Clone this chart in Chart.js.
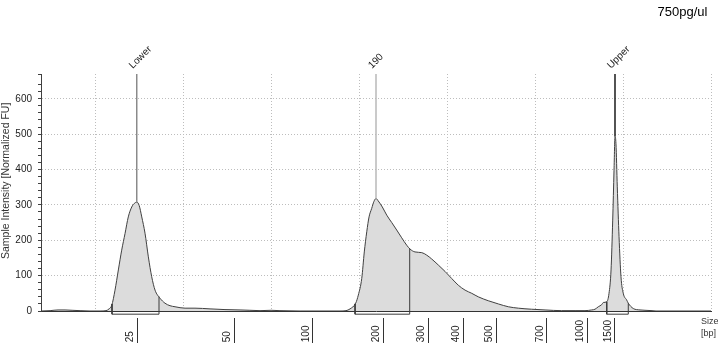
<!DOCTYPE html>
<html>
<head>
<meta charset="utf-8">
<script src="https://cdn.jsdelivr.net/npm/chart.js@4.4.1/dist/chart.umd.min.js"></script>
<style>
    body { margin: 0; background: #fff; }
    #wrap { width: 718px; height: 350px; }
</style>
</head>
<body>
<div id="wrap"><canvas id="canvas"></canvas></div>
<script>
// electropherogram trace: run position (scan units) vs intensity [FU]
const traceX = [38.6, 48.9, 58.0, 65.9, 73.9, 83.0, 94.3, 105.7, 112.5, 115.9, 119.0, 122.7, 126.5, 130.3,
    134.1, 137.8, 141.7, 144.6, 147.4, 150.2, 153.1, 156.8, 160.6, 164.4, 168.2, 173.9, 179.5, 185.2,
    190.9, 202.3, 213.6, 230.7, 247.7, 264.8, 276.0, 287.5, 300.0, 310.2, 333.0, 378.4, 385.2, 389.8,
    396.2, 399.2, 403.1, 406.0, 408.8, 411.4, 414.4, 417.0, 419.3, 421.9, 426.5, 431.5, 437.2, 442.8,
    448.5, 454.2, 458.0, 463.6, 471.3, 476.9, 482.6, 490.1, 497.7, 505.3, 512.8, 520.5, 528.1, 535.6,
    546.9, 558.3, 569.7, 581.0, 596.2, 611.4, 630.3, 645.5, 656.8, 664.4, 668.2, 671.9, 675.8, 677.6,
    681.5, 684.1, 686.4, 688.3, 689.8, 690.9, 692.0, 693.5, 695.5, 697.7, 700.3, 704.2, 706.0, 711.7,
    719.3, 725.0, 733.0, 737.5, 800.0];
const traceY = [0, 1, 3, 3, 2, 1, 0, 0, 1, 6, 16, 59, 116, 172,
    219, 266, 294, 304, 308, 298, 266, 220, 153, 97, 59, 36, 22, 15,
    12, 8, 8, 6, 4, 3, 2, 1, 2, 1, 0, 0, 1, 6,
    22, 45, 92, 167, 224, 266, 290, 310, 318, 311, 294, 271, 250, 229,
    207, 186, 175, 167, 165, 158, 147, 130, 112, 92, 73, 59, 50, 40,
    29, 20, 12, 8, 5, 3, 1, 1, 1, 3, 5, 12, 18, 24,
    26, 50, 116, 257, 398, 493, 473, 351, 210, 97, 50, 31, 22, 7,
    3, 2, 1, 0, 0];

// size ladder shown under the axis
const sizeLabels = ["25", "50", "100", "200", "300", "400", "500", "700", "1000", "1500"];
const sizePositions = [147.7, 258.0, 347.7, 428.1, 478.4, 518.2, 555.7, 613.6, 659.1, 690.9];

// called peaks
const peakNames = ["Lower", "190", "Upper"];
const peakPositions = [147.4, 419.3, 690.9];
const peakHeights = [308, 318, 493];

// integration regions
const regionStarts = [119.3, 395.5, 681.5];
const regionEnds = [172.7, 457.6, 706.0];

const X_MIN = 38.6, X_MAX = 800, Y_MAX = 670;
const BOX_DROP = 9; // integration boxes hang a little below the baseline (FU)
const peakLineColors = ["#8a8a8a", "#b8b8b8", "#1a1a1a"];
const FONT = '"Liberation Sans", Arial, sans-serif';

Chart.defaults.font.family = FONT;

function valueAt(x) {
    for (let i = 1; i < traceX.length; i++) {
        if (x <= traceX[i]) {
            const t = (x - traceX[i - 1]) / (traceX[i] - traceX[i - 1]);
            return traceY[i - 1] + t * (traceY[i] - traceY[i - 1]);
        }
    }
    return 0;
}

const datasets = [];

// integration boxes
regionStarts.forEach((s, i) => {
    const e = regionEnds[i];
    datasets.push({
        data: [{x: s, y: valueAt(s)}, {x: s, y: -BOX_DROP}, {x: e, y: -BOX_DROP}, {x: e, y: valueAt(e)}],
        borderColor: "#3a3a3a",
        borderWidth: 1,
        pointRadius: 0,
        fill: false,
        clip: false,
        order: 1
    });
});

// marker lines from peak top to the top of the plot
peakPositions.forEach((p, i) => {
    datasets.push({
        data: [{x: p, y: peakHeights[i]}, {x: p, y: Y_MAX}],
        borderColor: peakLineColors[i],
        borderWidth: 1.5,
        pointRadius: 0,
        fill: false,
        order: 1
    });
});

datasets.push({
    data: traceX.map((x, i) => ({x: x, y: traceY[i]})),
    borderColor: "#404040",
    backgroundColor: "#dcdcdc",
    borderWidth: 1,
    pointRadius: 0,
    fill: "origin",
    cubicInterpolationMode: "monotone",
    order: 3
});

const peakLabelPlugin = {
    id: "peakLabels",
    afterDraw(chart) {
        const {ctx, chartArea, scales} = chart;
        ctx.save();
        ctx.fillStyle = "#222";
        ctx.font = "10px " + FONT;
        ctx.textAlign = "left";
        ctx.textBaseline = "alphabetic";
        peakNames.forEach((name, i) => {
            const px = scales.x.getPixelForValue(peakPositions[i]);
            ctx.save();
            ctx.translate(px - 4, chartArea.top - 5);
            ctx.rotate(-Math.PI / 4);
            ctx.fillText(name, 0, 0);
            ctx.restore();
        });
        // unit of the size ladder
        ctx.font = "9px " + FONT;
        ctx.fillStyle = "#333";
        ctx.fillText("Size", chartArea.right - 10, chartArea.bottom + 12.5);
        ctx.fillText("[bp]", chartArea.right - 10, chartArea.bottom + 24.5);
        ctx.restore();
    }
};

new Chart(document.getElementById("canvas"), {
    type: "line",
    data: { datasets: datasets },
    plugins: [peakLabelPlugin],
    options: {
        animation: false,
        responsive: true,
        maintainAspectRatio: false,
        devicePixelRatio: 1,
        layout: { padding: { left: 0, right: 7, top: 0, bottom: 0 } },
        plugins: {
            legend: { display: false },
            tooltip: { enabled: false },
            title: {
                display: true,
                text: "750pg/ul ",
                align: "end",
                color: "#000",
                font: { size: 13, weight: "normal" },
                padding: { top: 5, bottom: 53.4 }
            }
        },
        scales: {
            x: {
                type: "linear",
                position: "bottom",
                min: X_MIN,
                max: X_MAX,
                weight: 0,
                afterFit: (s) => { s.height = 7; },
                ticks: { display: false, stepSize: 100 },
                grid: {
                    drawTicks: false,
                    color: (c) => (c.tick && c.tick.value % 100 === 0) ? "#bdbdbd" : "rgba(0,0,0,0)"
                },
                border: { color: "#333", width: 1, dash: [1, 2] }
            },
            size: {
                type: "linear",
                axis: "x",
                position: "bottom",
                min: X_MIN,
                max: X_MAX,
                weight: 1,
                afterBuildTicks: (s) => { s.ticks = sizePositions.map(v => ({ value: v })); },
                afterFit: (s) => { s.height = 32; },
                ticks: {
                    autoSkip: false,
                    minRotation: 90,
                    maxRotation: 90,
                    padding: -23,
                    labelOffset: -7,
                    color: "#222",
                    font: { size: 10 },
                    // pad so every label ends at the bottom of the tick
                    callback: (v, i) => sizeLabels[i] + " ".repeat(2 * (4 - sizeLabels[i].length))
                },
                grid: { drawOnChartArea: false, tickLength: 25, tickColor: "#333", tickWidth: 1 },
                border: { display: false }
            },
            y: {
                min: 0,
                max: Y_MAX,
                afterFit: (s) => { s.width = 41; },
                ticks: {
                    stepSize: 20,
                    autoSkip: false,
                    padding: 6,
                    color: "#222",
                    font: { size: 10 },
                    callback: (v) => v % 100 === 0 ? v : ""
                },
                grid: {
                    tickLength: 3,
                    tickColor: "#404040",
                    color: (c) => (c.tick && c.tick.value % 100 === 0 && c.tick.value > 0 && c.tick.value < Y_MAX) ? "#bdbdbd" : "rgba(0,0,0,0)"
                },
                border: { color: "#404040", width: 1, dash: [1, 2] },
                title: {
                    display: true,
                    text: "        Sample Intensity [Normalized FU]",
                    color: "#333",
                    font: { size: 10.5 },
                    padding: { top: 0, bottom: 0 }
                }
            }
        }
    }
});
</script>
</body>
</html>
